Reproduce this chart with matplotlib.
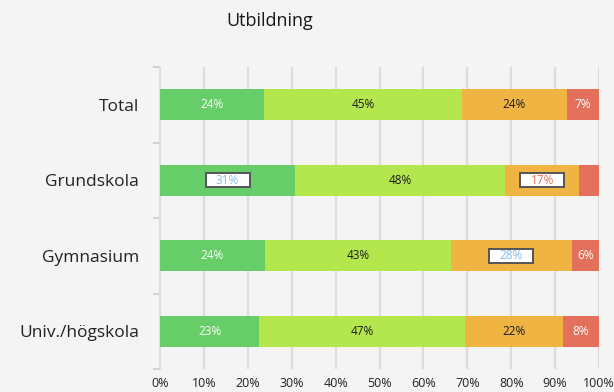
import matplotlib
matplotlib.use("Agg")
import matplotlib.pyplot as plt
from matplotlib.patches import Rectangle
import numpy as np

title = "Utbildning"
categories = ["Total", "Grundskola", "Gymnasium", "Univ./högskola"]
series_names = ["s1", "s2", "s3", "s4"]
values = {
    "s1": [23.7, 30.8, 23.9, 22.6],
    "s2": [45.0, 47.8, 42.4, 46.9],
    "s3": [24.0, 16.9, 27.5, 22.3],
    "s4": [7.3, 4.5, 6.2, 8.2],
}
labels = {
    "s1": ["24%", "31%", "24%", "23%"],
    "s2": ["45%", "48%", "43%", "47%"],
    "s3": ["24%", "17%", "28%", "22%"],
    "s4": ["7%", "", "6%", "8%"],
}
boxed = {("s1", 1): "#7fbfe6", ("s3", 1): "#e8705a", ("s3", 2): "#7fbfe6"}
xticks = [0, 10, 20, 30, 40, 50, 60, 70, 80, 90, 100]

colors = ["#66cd68", "#b3e74d", "#f0b443", "#e3705a"]
text_colors = ["white", "#1a1a1a", "#1a1a1a", "white"]

plt.rcParams['font.family'] = ['Open Sans', 'DejaVu Sans']

fig = plt.figure(figsize=(6.14, 3.92), dpi=100)
fig.patch.set_facecolor("#f4f4f4")
ax = fig.add_axes([160/614, 1-369/392, 439/614, 302/392])
ax.set_facecolor("#f4f4f4")

y = np.arange(len(categories))
left = np.zeros(len(categories))
for si, s in enumerate(series_names):
    v = np.array(values[s])
    ax.barh(y, v, left=left, height=0.41, color=colors[si], zorder=3)
    for i in range(len(categories)):
        lab = labels[s][i]
        if lab:
            cx = left[i] + v[i] / 2
            if (s, i) in boxed:
                ax.add_patch(Rectangle((cx - 5, y[i] - 0.095), 10, 0.19,
                                       facecolor="white", edgecolor="#555555",
                                       lw=1.4, zorder=4))
                ax.text(cx, y[i], lab, ha="center", va="center", fontsize=8.5,
                        color=boxed[(s, i)], zorder=5)
            else:
                ax.text(cx, y[i], lab, ha="center", va="center", fontsize=8.5,
                        color=text_colors[si], zorder=5)
    left = left + v

ax.set_xlim(0, 100)
ax.set_ylim(len(categories) - 0.5, -0.5)
ax.set_xticks(xticks)
ax.set_xticklabels([f"{t}%" for t in xticks], fontsize=9, color="#222222")
ax.xaxis.grid(True, color="#dcdcdc", lw=1.6, zorder=0)
ax.tick_params(axis="x", length=0, pad=6)
ax.set_yticks(y)
ax.set_yticklabels(categories, fontsize=12.5, color="#222222")
ax.tick_params(axis="y", length=0, pad=15)
ax.set_yticks(np.arange(-0.5, len(categories), 1.0), minor=True)
ax.tick_params(axis="y", which="minor", length=5, color="#cccccc", width=1.2)
for sp in ["top", "right", "bottom"]:
    ax.spines[sp].set_visible(False)
ax.spines["left"].set_color("#dddddd")
ax.spines["left"].set_linewidth(1.2)

fig.text(270/614, 1 - 21/392, title, ha="center", va="center", fontsize=13, color="#1a1a1a")

fig.savefig("out.png", dpi=100, facecolor=fig.get_facecolor())
